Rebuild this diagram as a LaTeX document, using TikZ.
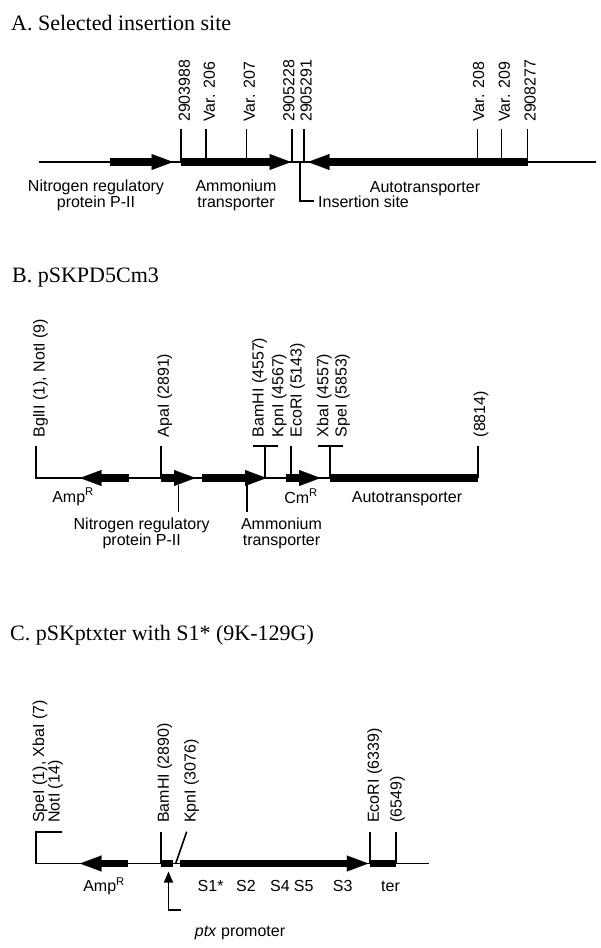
\documentclass[tikz,border=0pt]{standalone}
\usepackage{fontspec}
\setmainfont{Liberation Sans}
\newfontfamily\headfont{Liberation Serif}
\usetikzlibrary{arrows.meta}

\begin{document}
\begin{tikzpicture}[x=1pt, y=-1pt,
  every node/.style={inner sep=0pt, font=\fontsize{16}{16}\selectfont},
  head/.style={anchor=base west, font=\headfont\fontsize{22}{26}\selectfont},
  dna/.style={line width=1.8pt},
  tick/.style={line width=1.6pt},
  gene/.style={line width=7.5pt, -{Triangle[length=21.5pt, width=16pt, line width=0.1pt]}},
  block/.style={line width=7.5pt},
  site/.style={rotate=90, anchor=west, text height=11.5pt, text depth=3.4pt},
  lbl/.style={anchor=base, align=center}]
 \useasboundingbox (0,0) rectangle (600,948);

 % A. insertion site in the chromosome
 \node[head] (titleA) at (11,30) {A. Selected insertion site};
 \draw[dna] (38.5,162) -- (596,162);
 \draw[gene] (110,162) -- (173,162);
 \draw[gene] (181,162) -- (291,162);
 \draw[gene] (528,162) -- (308,162);
 \draw[tick] (181,162) -- (181,129.3);
 \draw[tick] (206,162) -- (206,129.3);
 \draw[tick] (246.5,162) -- (246.5,129.3);
 \draw[tick] (292,162) -- (292,129.3);
 \draw[tick] (304,162) -- (304,129.3);
 \draw[tick] (477.5,162) -- (477.5,129.3);
 \draw[tick] (501.5,162) -- (501.5,129.3);
 \draw[tick] (527.5,162) -- (527.5,129.3);
 \node[site] (a1) at (185.8,122) {2903988};
 \node[site] (a2) at (210.8,122) {Var. 206};
 \node[site] (a3) at (250.8,122) {Var. 207};
 \node[site] (a4) at (290.2,122) {2905228};
 \node[site] (a5) at (307.5,122) {2905291};
 \node[site] (a6) at (480,122) {Var. 208};
 \node[site] (a7) at (505.8,122) {Var. 209};
 \node[site] (a8) at (531.5,122) {2908277};
 % base of a two-line node is its last line
 \node[lbl] (glnB) at (96,207) {Nitrogen regulatory\\protein P-II};
 \node[lbl] (amtB) at (236,207) {Ammonium\\transporter};
 \node[lbl] (autoA) at (425,192) {Autotransporter};
 \node[anchor=base west] (ins) at (318,207) {Insertion site};
 \draw[tick] (300,162) |- ([xshift=-4pt]ins.west);

 % B. pSKPD5Cm3
 \node[head] (titleB) at (12,282) {B. pSKPD5Cm3};
 \draw[dna] (36,446) -- (36,478) -- (478,478);
 \draw[gene] (129,478) -- (80,478);
 \draw[gene] (161,478) -- (195.5,478);
 \draw[gene] (202,478) -- (266.5,478);
 \draw[gene] (286,478) -- (320.5,478);
 \draw[block] (330,478) -- (478,478);
 \draw[tick] (160.7,478) -- (160.7,446);
 \draw[tick] (265,478) -- (265,445.7) (253,445.7) -- (278,445.7);
 \draw[tick] (291,478) -- (291,445.7);
 \draw[tick] (330,478) -- (330,445.7) (318,445.7) -- (342.7,445.7);
 \draw[tick] (478,478) -- (478,446);
 \node[site] (b1) at (40.5,437.5) {BglII (1), NotI (9)};
 \node[site] (b2) at (164.8,437.5) {ApaI (2891)};
 \node[site] (b3) at (259.5,437.5) {BamHI (4557)};
 \node[site] (b4) at (279.2,437.5) {KpnI (4567)};
 \node[site] (b5) at (297.5,437.5) {EcoRI (5143)};
 \node[site] (b6) at (324.2,437.5) {XbaI (4557)};
 \node[site] (b7) at (342.5,437.5) {SpeI (5853)};
 \node[site] (b8) at (481,437.5) {(8814)};
 \node[lbl] (ampB) at (73,502) {Amp\textsuperscript{R}};
 \node[lbl] (cmB) at (301,503) {Cm\textsuperscript{R}};
 \node[lbl] (autoB) at (407,502) {Autotransporter};
 \node[lbl] (glnBB) at (141.7,545) {Nitrogen regulatory\\protein P-II};
 \node[lbl] (amtBB) at (281.5,545) {Ammonium\\transporter};
 \draw[tick] (178.3,485) -- (178.3,511.7);
 \draw[tick] (246.7,485) -- (246.7,511.7);

 % C. pSKptxter
 \node[head] (titleC) at (10,640) {C. pSKptxter with S1* (9K-129G)};
 \draw[dna] (61.7,831.7) -- (36,831.7) -- (36,863.5) -- (429,863.5);
 \draw[gene] (128.3,863.5) -- (80,863.5);
 \draw[block] (160.7,863.5) -- (173.3,863.5);
 \draw[gene] (180,863.5) -- (368.3,863.5);
 \draw[block] (370,863.5) -- (396,863.5);
 \draw[tick] (160.7,863.5) -- (160.7,831.7);
 \draw[tick] (175.7,863.5) -- (186.7,831.7);
 \draw[tick] (370,863.5) -- (370,831.7);
 \draw[tick] (396,863.5) -- (396,831.7);
 \node[site] (c1) at (40,823) {SpeI (1), XbaI (7)};
 \node[site] (c2) at (55.5,823) {NotI (14)};
 \node[site] (c3) at (164.8,823) {BamHI (2890)};
 \node[site] (c4) at (191.5,823) {KpnI (3076)};
 \node[site] (c5) at (374.8,823) {EcoRI (6339)};
 \node[site] (c6) at (397.5,823) {(6549)};
 \node[lbl] (ampC) at (104,891.7) {Amp\textsuperscript{R}};
 \node[lbl] (s1) at (210.6,891.7) {S1*};
 \node[lbl] (s2) at (246,891.7) {S2};
 \node[lbl] (s4) at (280,891.7) {S4};
 \node[lbl] (s5) at (303.7,891.7) {S5};
 \node[lbl] (s3) at (342.7,891.7) {S3};
 \node[lbl] (ter) at (390.5,891.7) {ter};
 \node[lbl] (ptx) at (240,936.7) {\textit{ptx} promoter};
 \coordinate (foot) at (181,910);
 \draw[tick, -{Triangle[length=11pt, width=9pt]}] (foot) -| (168.5,871.5);
\end{tikzpicture}
\end{document}
